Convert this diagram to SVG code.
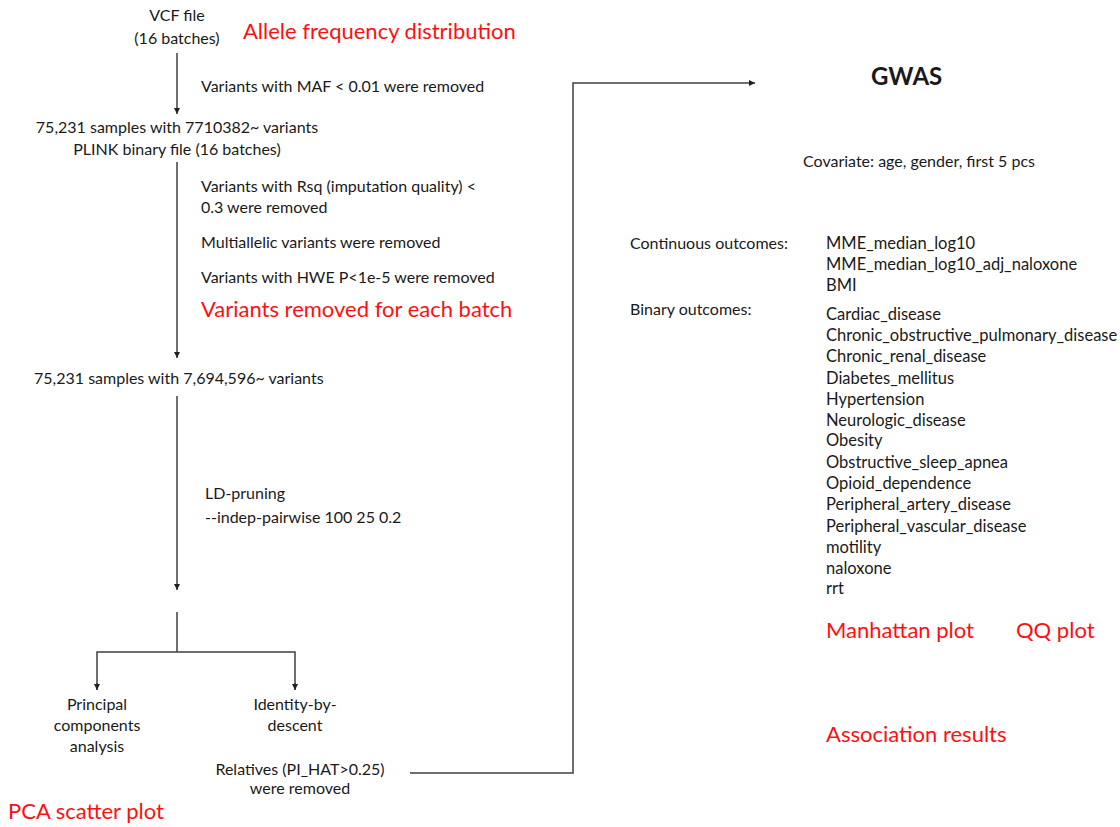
<svg xmlns="http://www.w3.org/2000/svg" width="1120" height="827" viewBox="0 0 1120 827">
<style>
text{font-family:Lato,"Open Sans","Liberation Sans",sans-serif;fill:#1a1a1a;font-size:16px}
.c{text-anchor:middle}
.o{font-size:16.5px}
.r{fill:#ff1010;font-size:22px}
.b{font-weight:bold;font-size:24px}
.ln{fill:none;stroke:#404040;stroke-width:1.5}
</style>
<defs>
<marker id="ah" markerWidth="8" markerHeight="8" refX="6" refY="4" orient="auto" markerUnits="userSpaceOnUse">
<path d="M0,1 L6,4 L0,7 Z" fill="#202020"/>
</marker>
</defs>
<rect width="1120" height="827" fill="#fff"/>
<g id="connectors">
<line class="ln" x1="177" y1="53" x2="177" y2="114" marker-end="url(#ah)"/>
<line class="ln" x1="177" y1="162" x2="177" y2="358" marker-end="url(#ah)"/>
<line class="ln" x1="177" y1="396" x2="177" y2="590" marker-end="url(#ah)"/>
<path class="ln" d="M177,612 V652 M97,690 V652 H295 V690"/>
<line class="ln" x1="97" y1="683" x2="97" y2="690" marker-end="url(#ah)"/>
<line class="ln" x1="295" y1="683" x2="295" y2="690" marker-end="url(#ah)"/>
<path class="ln" d="M410,773 H573 V83 H755" marker-end="url(#ah)"/>
</g>
<g id="vcf"><text class="c" x="177" y="21">VCF file</text><text class="c" x="177" y="44">(16 batches)</text></g>
<g id="allele"><text class="r" x="243" y="39">Allele frequency distribution</text></g>
<g id="maf"><text x="201" y="92">Variants with MAF &lt; 0.01 were removed</text></g>
<g id="plink"><text class="c" x="177" y="133">75,231 samples with 7710382~ variants</text><text class="c" x="177" y="155">PLINK binary file (16 batches)</text></g>
<g id="filters">
<text x="201" y="192">Variants with Rsq (imputation quality) &lt;</text>
<text x="201" y="213">0.3 were removed</text>
<text x="201" y="248">Multiallelic variants were removed</text>
<text x="201" y="283">Variants with HWE P&lt;1e-5 were removed</text>
<text class="r" x="201" y="317">Variants removed for each batch</text>
</g>
<g id="filtered"><text x="34" y="384">75,231 samples with 7,694,596~ variants</text></g>
<g id="ld"><text x="205" y="499">LD-pruning</text><text x="205" y="523">--indep-pairwise 100 25 0.2</text></g>
<g id="pca"><text class="c" x="97" y="710">Principal</text><text class="c" x="97" y="731">components</text><text class="c" x="97" y="752">analysis</text></g>
<g id="ibd"><text class="c" x="295" y="710">Identity-by-</text><text class="c" x="295" y="731">descent</text></g>
<g id="relatives"><text class="c" x="300" y="775">Relatives (PI_HAT&gt;0.25)</text><text class="c" x="300" y="794">were removed</text></g>
<g id="pcaplot"><text class="r" x="8" y="819">PCA scatter plot</text></g>
<g id="gwas"><text class="b" x="871" y="85">GWAS</text></g>
<g id="covariate"><text x="803" y="167">Covariate: age, gender, first 5 pcs</text></g>
<g id="continuous">
<text x="630" y="249">Continuous outcomes:</text>
<text class="o" x="826" y="249">MME_median_log10</text>
<text class="o" x="826" y="270">MME_median_log10_adj_naloxone</text>
<text class="o" x="826" y="291">BMI</text>
</g>
<g id="binary">
<text x="630" y="315">Binary outcomes:</text>
<text class="o" x="826" y="320">Cardiac_disease</text>
<text class="o" x="826" y="341">Chronic_obstructive_pulmonary_disease</text>
<text class="o" x="826" y="362">Chronic_renal_disease</text>
<text class="o" x="826" y="384">Diabetes_mellitus</text>
<text class="o" x="826" y="405">Hypertension</text>
<text class="o" x="826" y="426">Neurologic_disease</text>
<text class="o" x="826" y="446">Obesity</text>
<text class="o" x="826" y="468">Obstructive_sleep_apnea</text>
<text class="o" x="826" y="489">Opioid_dependence</text>
<text class="o" x="826" y="510">Peripheral_artery_disease</text>
<text class="o" x="826" y="532">Peripheral_vascular_disease</text>
<text class="o" x="826" y="553">motility</text>
<text class="o" x="826" y="574">naloxone</text>
<text class="o" x="826" y="594">rrt</text>
</g>
<g id="results">
<text class="r" x="826" y="638">Manhattan plot</text>
<text class="r" x="1016" y="638">QQ plot</text>
<text class="r" x="826" y="742">Association results</text>
</g>
</svg>
